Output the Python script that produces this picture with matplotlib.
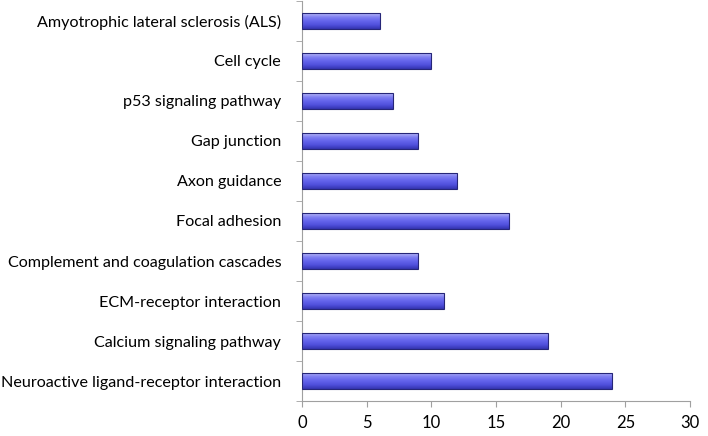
import matplotlib
matplotlib.use("Agg")
import matplotlib.pyplot as plt
import numpy as np
from matplotlib.colors import LinearSegmentedColormap
from matplotlib.patches import Rectangle

categories = [
    "Neuroactive ligand-receptor interaction",
    "Calcium signaling pathway",
    "ECM-receptor interaction",
    "Complement and coagulation cascades",
    "Focal adhesion",
    "Axon guidance",
    "Gap junction",
    "p53 signaling pathway",
    "Cell cycle",
    "Amyotrophic lateral sclerosis (ALS)",
]
values = [24, 19, 11, 9, 16, 12, 9, 7, 10, 6]
xticks = [0, 5, 10, 15, 20, 25, 30]

plt.rcParams['font.family'] = ['Lato', 'DejaVu Sans']
fig = plt.figure(figsize=(7.08, 4.36), dpi=100)
ax = fig.add_axes([302/708, 1 - 401/436, (690 - 302)/708, 400/436])

cmap = LinearSegmentedColormap.from_list(
    "bar", ["#3434b0", "#5050dc", "#6464ec", "#8080f2", "#b8b8f8"])
grad = np.linspace(0, 1, 64).reshape(-1, 1)

y = np.arange(len(categories))
h = 0.4
bars = ax.barh(y, values, height=h, color="none", edgecolor="#262678", linewidth=0.8, zorder=3)
for b in bars:
    x0, y0 = b.get_x(), b.get_y()
    w, hh = b.get_width(), b.get_height()
    im = ax.imshow(grad, extent=[x0, x0 + w, y0, y0 + hh], origin="lower",
                   cmap=cmap, aspect="auto", zorder=2)
    clip = Rectangle((x0, y0), w, hh, transform=ax.transData)
    im.set_clip_path(clip)

ax.set_xlim(0, 30)
ax.set_ylim(-0.5, len(categories) - 0.5)
ax.set_xticks(xticks)
ax.set_xticklabels([str(t) for t in xticks], fontsize=12)
ax.set_yticks(y)
ax.set_yticklabels(categories, fontsize=11.6)
ax.set_yticks(np.arange(-0.5, len(categories), 1), minor=True)
ax.tick_params(axis="y", which="major", length=0, pad=15)
ax.tick_params(axis="y", which="minor", length=4, color="#a0a0a0", direction="out")
ax.tick_params(axis="x", length=4, color="#a0a0a0", direction="out", pad=6)
for s in ["top", "right"]:
    ax.spines[s].set_visible(False)
for s in ["left", "bottom"]:
    ax.spines[s].set_color("#a0a0a0")
ax.set_facecolor("white")
fig.savefig("out.png", dpi=100)
